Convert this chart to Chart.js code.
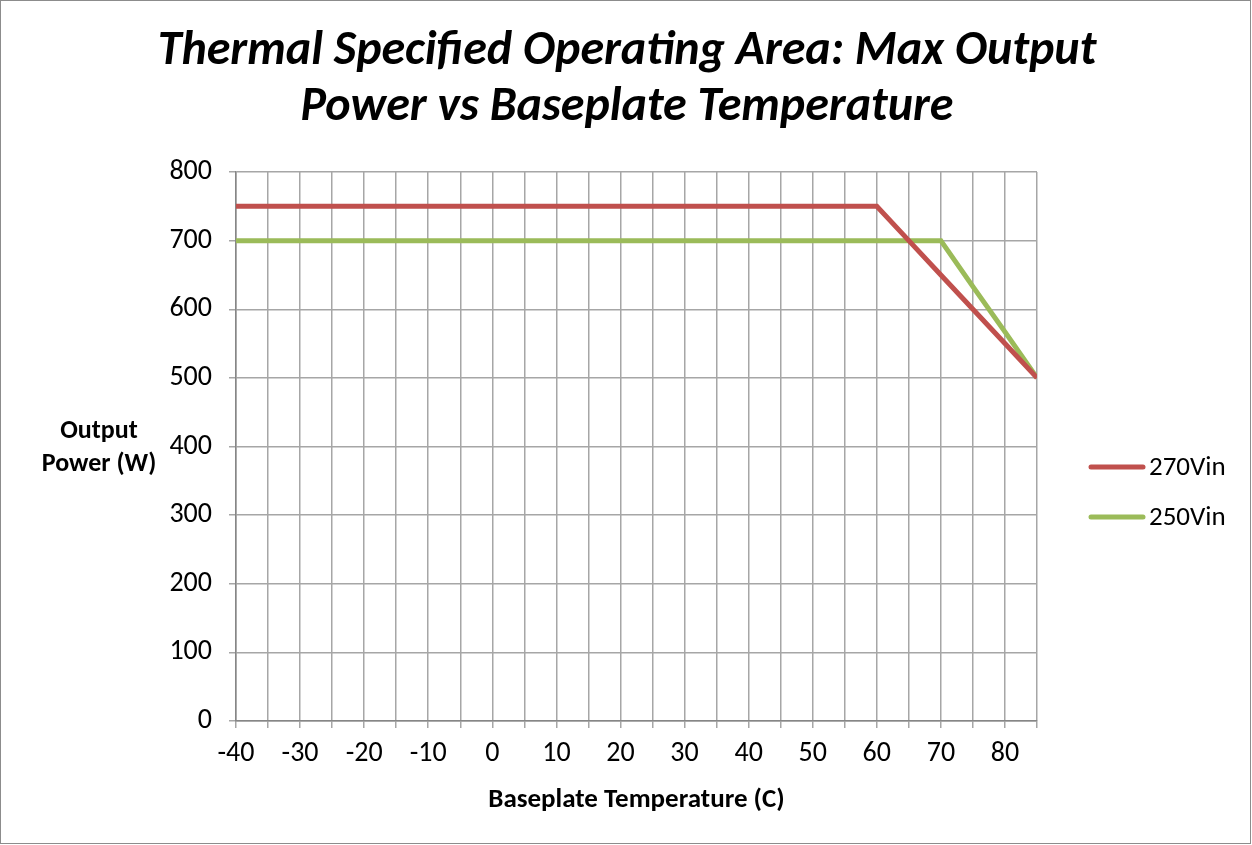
<!DOCTYPE html>
<html>
<head>
<meta charset="utf-8">
<script src="https://cdn.jsdelivr.net/npm/chart.js@4/dist/chart.umd.min.js"></script>
<style>
  body { margin: 0; background: #fff; }
  #wrap { width: 1252px; height: 845px; position: relative; }
</style>
</head>
<body>
<div id="wrap"><canvas id="soa"></canvas></div>
<script>
// baseplate temperature (C), one point every 5 degrees
var temps = [-40, -35, -30, -25, -20, -15, -10, -5, 0, 5, 10, 15, 20, 25, 30, 35, 40, 45, 50, 55, 60, 65, 70, 75, 80, 85]
// max output power (W)
var p270 = [750, 750, 750, 750, 750, 750, 750, 750, 750, 750, 750, 750, 750, 750, 750, 750, 750, 750, 750, 750, 750, 700, 650, 600, 550, 500]
var p250 = [700, 700, 700, 700, 700, 700, 700, 700, 700, 700, 700, 700, 700, 700, 700, 700, 700, 700, 700, 700, 700, 700, 700, 633, 567, 500]
var seriesNames = ["270Vin", "250Vin"]
var seriesColors = ["#c0504d", "#9bbb59"]
var xLabels = [-40, -30, -20, -10, 0, 10, 20, 30, 40, 50, 60, 70, 80]
var titleLines = ["Thermal Specified Operating Area: Max Output", "Power vs Baseplate Temperature"]
var yTitle = ["Output", "Power (W)"]

var fontFam = "Carlito, Lato, 'DejaVu Sans', sans-serif"

function pts(vals) {
  return temps.map(function (t, i) { return { x: t, y: vals[i] } })
}

// title centred on the whole picture, not just the plot box
var titlePlugin = {
  id: "bigtitle",
  afterDraw: function (chart) {
    var c = chart.ctx
    c.save()
    c.fillStyle = "#000"
    c.font = "italic bold 48px " + fontFam
    c.textAlign = "center"
    c.textBaseline = "middle"
    c.fillText(titleLines[0], 627, 52)
    c.fillText(titleLines[1], 627, 108)
    c.restore()
  }
}

// y axis title drawn horizontally, like the original
var yTitlePlugin = {
  id: "ytitle",
  afterDraw: function (chart) {
    var c = chart.ctx
    c.save()
    c.fillStyle = "#000"
    c.font = "bold 26px " + fontFam
    c.textAlign = "center"
    c.textBaseline = "middle"
    c.fillText(yTitle[0], 99, 431)
    c.fillText(yTitle[1], 99, 464)
    c.restore()
  }
}

// legend on the right
var legendPlugin = {
  id: "sidelegend",
  afterDraw: function (chart) {
    var c = chart.ctx
    c.save()
    chart.data.datasets.forEach(function (ds, i) {
      var y = 467 + i * 50
      c.strokeStyle = ds.borderColor
      c.lineWidth = 5
      c.lineCap = "round"
      c.beginPath()
      c.moveTo(1091, y)
      c.lineTo(1143, y)
      c.stroke()
      c.fillStyle = "#000"
      c.font = "27px " + fontFam
      c.textAlign = "left"
      c.textBaseline = "middle"
      c.fillText(ds.label, 1149, y + 1)
    })
    c.restore()
  }
}

// outer frame
var framePlugin = {
  id: "frame",
  afterDraw: function (chart) {
    var c = chart.ctx
    c.save()
    c.strokeStyle = "#8c8c8c"
    c.lineWidth = 1
    c.strokeRect(0.5, 0.5, chart.width - 2, chart.height - 2)
    c.restore()
  }
}

var ctx = document.getElementById("soa").getContext("2d")

var chart = new Chart(ctx, {
  type: "line",
  data: {
    datasets: [
      {
        label: seriesNames[0],
        data: pts(p270),
        borderColor: seriesColors[0],
        backgroundColor: seriesColors[0],
        borderWidth: 5,
        pointRadius: 0,
        tension: 0
      },
      {
        label: seriesNames[1],
        data: pts(p250),
        borderColor: seriesColors[1],
        backgroundColor: seriesColors[1],
        borderWidth: 5,
        pointRadius: 0,
        tension: 0
      }
    ]
  },
  options: {
    responsive: true,
    maintainAspectRatio: false,
    animation: false,
    layout: { padding: { left: 0, right: 215, top: 172, bottom: 0 } },
    plugins: {
      legend: { display: false },
      tooltip: { enabled: false },
      title: { display: false }
    },
    scales: {
      x: {
        type: "linear",
        min: -40,
        max: 85,
        afterFit: function (scale) { scale.height = 124 },
        ticks: {
          stepSize: 5,
          autoSkip: false,
          maxRotation: 0,
          color: "#000",
          padding: 9,
          font: { family: fontFam, size: 28 },
          callback: function (value) {
            return xLabels.indexOf(value) >= 0 ? String(value) : ""
          }
        },
        grid: { color: "#a6a6a6", lineWidth: 1.5, tickLength: 7 },
        border: { color: "#868686", width: 1.5 },
        title: {
          display: true,
          text: "Baseplate Temperature (C)",
          color: "#000",
          font: { family: fontFam, size: 27, weight: "bold" },
          padding: { top: 0, bottom: 29 }
        }
      },
      y: {
        min: 0,
        max: 800,
        afterFit: function (scale) { scale.width = 236 },
        ticks: {
          stepSize: 100,
          color: "#000",
          padding: 17,
          font: { family: fontFam, size: 28 }
        },
        grid: { color: "#a6a6a6", lineWidth: 1.5, tickLength: 7 },
        border: { color: "#868686", width: 1.5 }
      }
    }
  },
  plugins: [titlePlugin, yTitlePlugin, legendPlugin, framePlugin]
})
</script>
</body>
</html>
